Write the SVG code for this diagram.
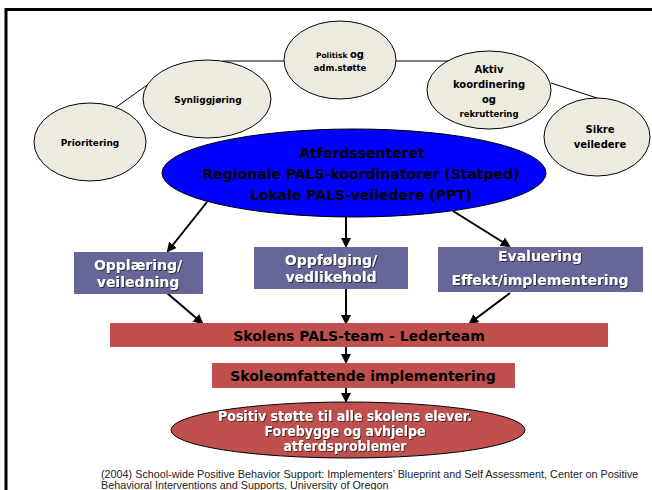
<svg xmlns="http://www.w3.org/2000/svg" width="652" height="490" viewBox="0 0 652 490">
<style>
.bg{fill:#ffffff}
.frame{fill:none;stroke:#000;stroke-width:3}
.oval{fill:#EDEBE0;stroke:#000;stroke-width:1}
.link{fill:none;stroke:#000;stroke-width:1}
.arrow{fill:none;stroke:#000;stroke-width:2;marker-end:url(#ah)}
.ct{font-family:"DejaVu Sans",sans-serif;font-weight:bold;fill:#000;text-anchor:middle}
.box{fill:#666699}
.red{fill:#C0504D}
.wt{font-family:"DejaVu Sans",sans-serif;font-weight:bold;fill:#fff;text-anchor:middle;font-size:14px;filter:url(#sh)}
.bt{font-family:"DejaVu Sans",sans-serif;font-weight:bold;fill:#000;text-anchor:middle;font-size:14px}
.cap{font-family:"Liberation Sans",Arial,sans-serif;font-size:10.8px;fill:#222}
</style>
<defs>
<marker id="ah" markerWidth="10" markerHeight="10" refX="8" refY="5" orient="auto" markerUnits="userSpaceOnUse">
<path d="M0,0 L10,5 L0,10 z" fill="#000"/>
</marker>
<filter id="sh" x="-10%" y="-30%" width="120%" height="160%">
<feDropShadow dx="1" dy="1" stdDeviation="0.3" flood-color="#222" flood-opacity="0.8"/>
</filter>
</defs>
<rect class="bg" width="652" height="490"/>
<path class="frame" d="M6,490 L6,9.5 L652,9.5"/>

<g id="connectors">
<line class="link" x1="115" y1="108" x2="150" y2="83"/>
<line class="link" x1="223" y1="61" x2="285" y2="61"/>
<line class="link" x1="396" y1="61" x2="453" y2="61"/>
<line class="link" x1="551" y1="83" x2="597" y2="98"/>
<line class="arrow" x1="207" y1="202" x2="168" y2="251"/>
<line class="arrow" x1="346" y1="217" x2="346" y2="246"/>
<line class="arrow" x1="453" y1="211" x2="509" y2="246"/>
<line class="arrow" x1="167" y1="293" x2="202" y2="323"/>
<line class="arrow" x1="346" y1="289" x2="346" y2="323"/>
<line class="arrow" x1="510" y1="293" x2="470" y2="323"/>
<line class="arrow" x1="346" y1="347" x2="346" y2="362"/>
<line class="arrow" x1="346" y1="388" x2="346" y2="401"/>
</g>

<g id="prioritering">
<ellipse class="oval" cx="90" cy="142" rx="56" ry="39"/>
<text class="ct" x="90" y="146" font-size="9">Prioritering</text>
</g>
<g id="synliggjoring">
<ellipse class="oval" cx="207" cy="99" rx="64" ry="39"/>
<text class="ct" x="208" y="103" font-size="9">Synliggjøring</text>
</g>
<g id="politisk">
<ellipse class="oval" cx="340" cy="60" rx="56" ry="39"/>
<text class="ct" x="340" y="58"><tspan font-size="7.5">Politisk </tspan><tspan font-size="10">og</tspan></text>
<text class="ct" x="340" y="71" font-size="8.5">adm.støtte</text>
</g>
<g id="aktiv">
<ellipse class="oval" cx="489" cy="90" rx="62" ry="39"/>
<text class="ct" x="489" y="73" font-size="10">Aktiv</text>
<text class="ct" x="489" y="88" font-size="10">koordinering</text>
<text class="ct" x="489" y="103" font-size="10">og</text>
<text class="ct" x="489" y="117" font-size="8.5">rekruttering</text>
</g>
<g id="sikre">
<ellipse class="oval" cx="597" cy="137" rx="53" ry="39"/>
<text class="ct" x="600" y="133" font-size="10">Sikre</text>
<text class="ct" x="600" y="148" font-size="10">veiledere</text>
</g>

<g id="atferdssenteret">
<ellipse cx="354" cy="173" rx="192" ry="44" fill="#0000FF" stroke="#000" stroke-width="1"/>
<text class="bt" x="362" y="158" font-size="14.5">Atferdssenteret</text>
<text class="bt" x="361" y="179" font-size="14.5">Regionale PALS-koordinatorer (Statped)</text>
<text class="bt" x="361" y="200" font-size="14.5">Lokale PALS-veiledere (PPT)</text>
</g>

<g id="opplaering">
<rect class="box" x="74" y="252" width="129" height="42"/>
<text class="wt" x="138" y="270">Opplæring/</text>
<text class="wt" x="138" y="287">veiledning</text>
</g>
<g id="oppfolging">
<rect class="box" x="254" y="247" width="154" height="42"/>
<text class="wt" x="331" y="265">Oppfølging/</text>
<text class="wt" x="331" y="282">vedlikehold</text>
</g>
<g id="evaluering">
<rect class="box" x="438" y="247" width="205" height="45"/>
<text class="wt" x="540" y="261">Evaluering</text>
<text class="wt" x="540" y="285">Effekt/implementering</text>
</g>

<g id="palsteam">
<rect class="red" x="110" y="323" width="498" height="24"/>
<text class="bt" x="359" y="341">Skolens PALS-team - Lederteam</text>
</g>
<g id="skoleomfattende">
<rect class="red" x="212" y="363" width="303" height="25"/>
<text class="bt" x="363" y="381">Skoleomfattende implementering</text>
</g>
<g id="positiv">
<ellipse cx="348" cy="430" rx="177" ry="28" fill="#C0504D" stroke="#000" stroke-width="1"/>
<text class="wt" x="345" y="421" font-size="12" textLength="254" lengthAdjust="spacingAndGlyphs">Positiv støtte til alle skolens elever.</text>
<text class="wt" x="345" y="436" font-size="12" textLength="161" lengthAdjust="spacingAndGlyphs">Forebygge og avhjelpe</text>
<text class="wt" x="345" y="451" font-size="12" textLength="123" lengthAdjust="spacingAndGlyphs">atferdsproblemer</text>
</g>

<g id="caption">
<text class="cap" x="101" y="478">(2004) School-wide Positive Behavior Support: Implementers’ Blueprint and Self Assessment, Center on Positive</text>
<text class="cap" x="101" y="489">Behavioral Interventions and Supports, University of Oregon</text>
</g>
</svg>
